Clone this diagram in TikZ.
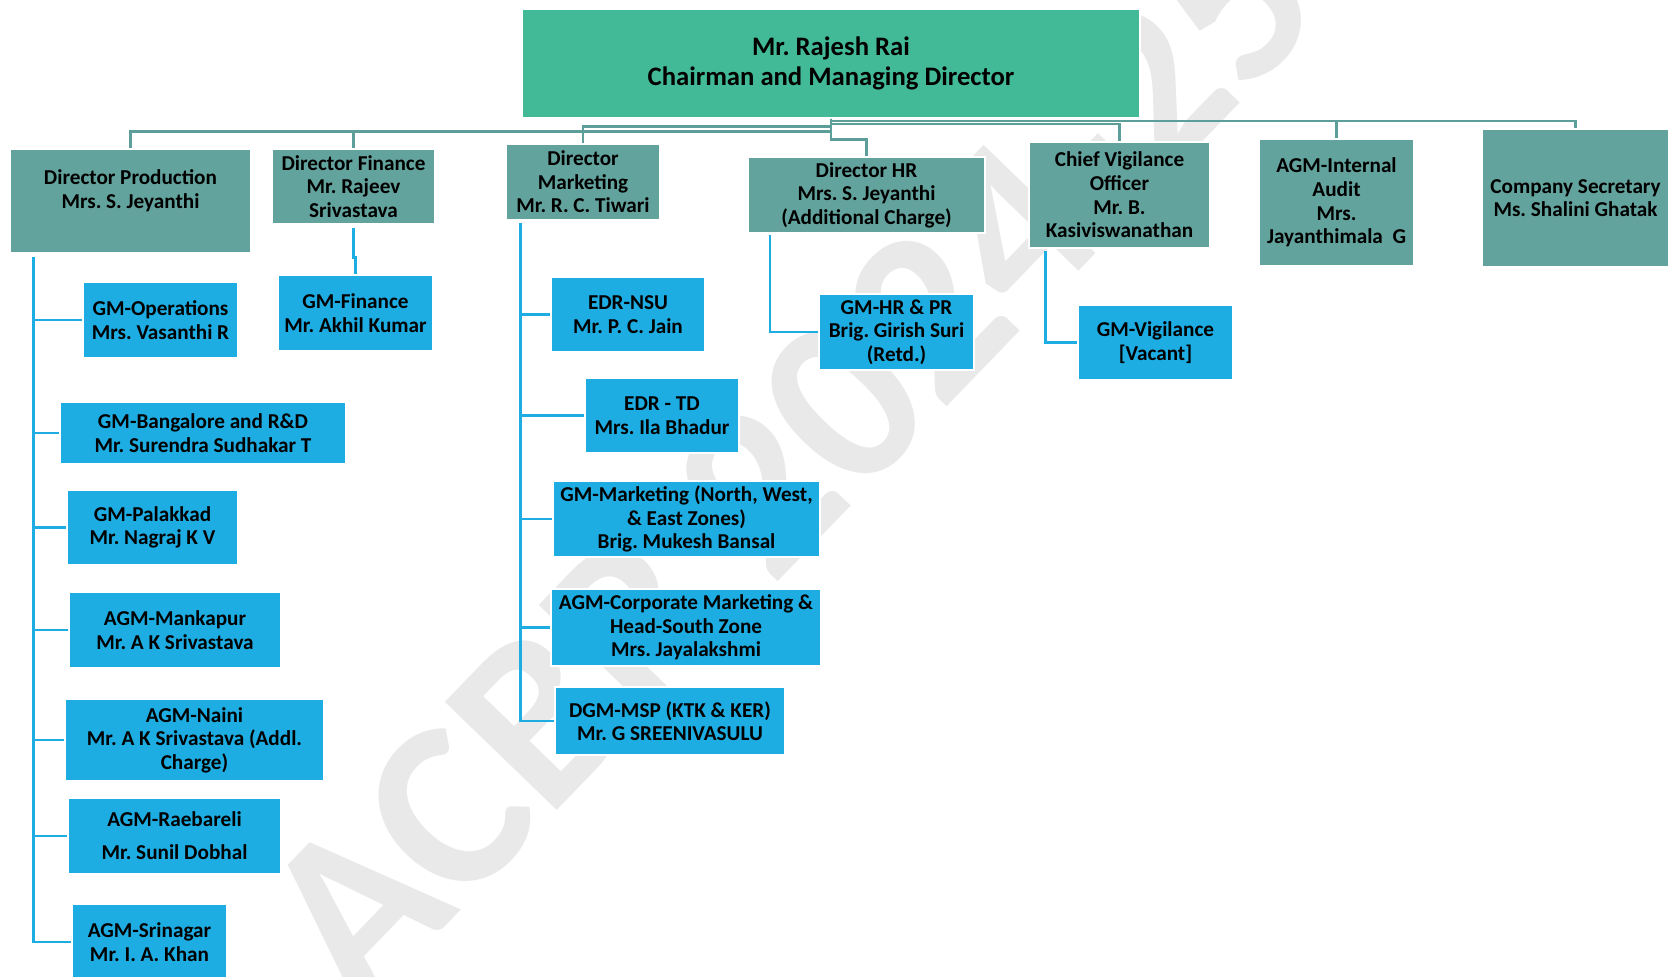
\documentclass[tikz,border=0pt]{standalone}
\usepackage{fontspec}
\setmainfont{Carlito}
\frenchspacing
\definecolor{cmdgreen}{RGB}{67,186,151}
\definecolor{dirteal}{RGB}{99,163,157}
\definecolor{gmblue}{RGB}{30,173,227}
\definecolor{linkteal}{RGB}{92,158,154}
\definecolor{wmgray}{RGB}{233,233,233}

% box by its corners (x1,y1)-(x2,y2), in pixel units with y pointing down
\newcommand{\orgbox}[7]{%
  \node[#6, minimum width={(#4-#2)*0.75pt}, minimum height={(#5-#3)*0.75pt}]
    (#1) at ({(#2+#4)/2},{(#3+#5)/2}) {#7};}

\tikzset{
  basebox/.style={draw=white, line width=0.8pt, inner sep=0pt, align=center,
    text=black, font=\bfseries\fontsize{15.9}{17.7}\selectfont},
  topbox/.style={basebox, fill=cmdgreen, font=\bfseries\fontsize{20}{22.5}\selectfont},
  dirbox/.style={basebox, fill=dirteal},
  gmbox/.style={basebox, fill=gmblue},
  tealline/.style={draw=linkteal, line width=1.7pt},
  blueline/.style={draw=gmblue, line width=1.9pt},
  watermark/.style={text=wmgray, font=\bfseries\fontsize{180}{180}\selectfont}
}

\begin{document}
\begin{tikzpicture}[x=0.75pt, y=-0.75pt]
\useasboundingbox[fill=white] (0,0) rectangle (1669,976);

% faint diagonal watermark behind the chart
\node[watermark, rotate=46, anchor=base west, inner sep=0pt] (wm) at (360,1015) {ACBR 2024-25};

% chairman
\orgbox{cmd}{522}{9}{1140}{118}{topbox}{Mr. Rajesh Rai\\Chairman and Managing Director}

% directors and heads
\orgbox{dprod}{10}{149}{251}{253}{dirbox}{Director Production\\Mrs. S. Jeyanthi\\~}
\orgbox{dfin}{272}{149}{435}{224}{dirbox}{Director Finance\\Mr. Rajeev\\Srivastava}
\orgbox{dmkt}{506}{144}{660}{220}{dirbox}{Director\\Marketing\\Mr. R. C. Tiwari}
\orgbox{dhr}{748}{157}{985}{233}{dirbox}{Director HR\\Mrs. S. Jeyanthi\\(Additional Charge)}
\orgbox{cvo}{1029}{142}{1210}{248}{dirbox}{Chief Vigilance\\Officer\\Mr. B.\\Kasiviswanathan}
\orgbox{agmia}{1259}{139}{1414}{266}{dirbox}{AGM-Internal\\Audit\\Mrs.\\Jayanthimala\ \ G}
\orgbox{cs}{1482}{129}{1669}{267}{dirbox}{Company Secretary\\Ms. Shalini Ghatak}

% production units
\orgbox{gmops}{83}{282}{238}{358}{gmbox}{GM-Operations\\Mrs. Vasanthi R}
\orgbox{gmblr}{60}{402}{346}{464}{gmbox}{GM-Bangalore and R\&D\\Mr. Surendra Sudhakar T}
\orgbox{gmpkd}{67}{490}{238}{565}{gmbox}{GM-Palakkad\\Mr. Nagraj K V}
\orgbox{agmmkp}{69}{592}{281}{668}{gmbox}{AGM-Mankapur\\Mr. A K Srivastava}
\orgbox{agmnaini}{65}{699}{324}{781}{gmbox}{AGM-Naini\\Mr. A K Srivastava (Addl.\\Charge)}
\orgbox{agmrbl}{68}{798}{281}{874}{gmbox}{AGM-Raebareli\\[7pt]Mr. Sunil Dobhal}
\orgbox{agmsxr}{72}{904}{227}{980}{gmbox}{AGM-Srinagar\\Mr. I. A. Khan}

% finance
\orgbox{gmfin}{278}{275}{433}{351}{gmbox}{GM-Finance\\Mr. Akhil Kumar}

% marketing
\orgbox{edrnsu}{551}{277}{705}{352}{gmbox}{EDR-NSU\\Mr. P. C. Jain}
\orgbox{edrtd}{585}{378}{739}{453}{gmbox}{EDR - TD\\Mrs. Ila Bhadur}
\orgbox{gmmkt}{553}{481}{820}{557}{gmbox}{GM-Marketing (North, West,\\\& East Zones)\\Brig. Mukesh Bansal}
\orgbox{agmcorp}{551}{589}{821}{666}{gmbox}{AGM-Corporate Marketing \&\\Head-South Zone\\Mrs. Jayalakshmi}
\orgbox{dgmmsp}{555}{687}{785}{755}{gmbox}{DGM-MSP (KTK \& KER)\\Mr. G SREENIVASULU}

% HR and vigilance
\orgbox{gmhr}{819}{294}{974}{370}{gmbox}{GM-HR \& PR\\Brig. Girish Suri\\(Retd.)}
\orgbox{gmvig}{1078}{305}{1233}{380}{gmbox}{GM-Vigilance\\{[Vacant]}}

% chairman to directors
\draw[tealline] (cmd.south) -- ++(0,13) -| (dprod.north);
\draw[tealline] (cmd.south) -- ++(0,13) -| (dfin.north);
\draw[tealline] (cmd.south) -- ++(0,8) -| (dmkt.north);
\draw[tealline] (cmd.south) -- ++(0,21) -| (dhr.north);
\draw[tealline] (cmd.south) -- ++(0,5.5) -| (cvo.north);
\draw[tealline] (cmd.south) -- ++(0,2.5) -| (agmia.north);
\draw[tealline] (cmd.south) -- ++(0,2.5) -| (cs.north);

% production spine
\coordinate (pspine) at (33.5,257);
\foreach \n in {gmops,gmblr,gmpkd,agmmkp,agmnaini,agmrbl,agmsxr}
  \draw[blueline] (pspine) |- (\n.west);

% finance
\draw[blueline] (dfin.south) ++(0,3) -- ++(0,30) -| (gmfin.north);

% marketing spine
\coordinate (mspine) at (520.5,223);
\foreach \n in {edrnsu,edrtd,gmmkt,agmcorp,dgmmsp}
  \draw[blueline] (mspine) |- (\n.west);

% HR and vigilance
\coordinate (hrtop) at (770,235);
\draw[blueline] (hrtop) |- (gmhr.west);
\coordinate (cvotop) at (1045.5,251);
\draw[blueline] (cvotop) |- (gmvig.west);
\end{tikzpicture}
\end{document}
